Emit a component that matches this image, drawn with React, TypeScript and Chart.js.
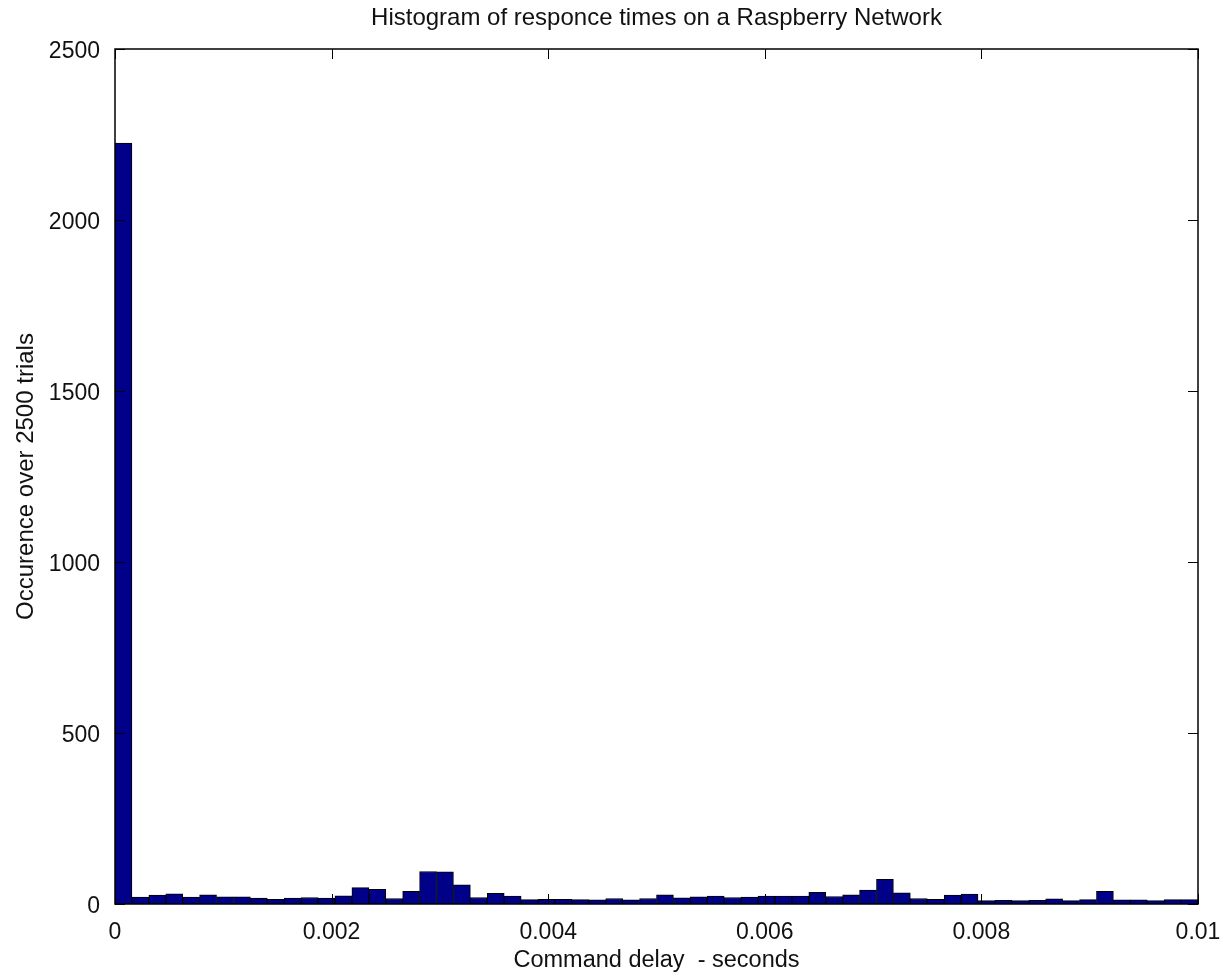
import React, { useEffect, useRef } from "react";
import { Chart, registerables } from "chart.js";

Chart.register(...registerables);

const chartTitle = "Histogram of responce times on a Raspberry Network";
const xAxisTitle = "Command delay  - seconds";
const yAxisTitle = "Occurence over 2500 trials";

const xMin = 0;
const xMax = 0.01;
const binCount = 64;

const counts = [
  2225, 20, 26, 30, 20, 27, 21, 21, 17, 14, 17, 19, 17, 24, 48, 43,
  16, 37, 95, 94, 56, 19, 31, 23, 13, 14, 14, 13, 12, 16, 12, 16,
  27, 18, 21, 23, 19, 20, 23, 23, 23, 34, 22, 27, 41, 72, 33, 16,
  14, 26, 29, 10, 11, 10, 11, 15, 10, 13, 37, 12, 12, 10, 13, 13,
];

const xTickValues = [0, 0.002, 0.004, 0.006, 0.008, 0.01];
const xTickLabels = ["0", "0.002", "0.004", "0.006", "0.008", "0.01"];
const yTickValues = [0, 500, 1000, 1500, 2000, 2500];
const yTickLabels = ["0", "500", "1000", "1500", "2000", "2500"];

const FONT = '"Liberation Sans", Arial, Helvetica, sans-serif';

export default function App() {
  const canvasRef = useRef<HTMLCanvasElement | null>(null);

  useEffect(() => {
    const canvas = canvasRef.current;
    if (!canvas) return;
    const binWidth = (xMax - xMin) / binCount;
    const points = counts.map((c, i) => ({ x: xMin + (i + 0.5) * binWidth, y: c }));

    const boxPlugin = {
      id: "boxTicks",
      afterDatasetsDraw(chart: any) {
        const { ctx, chartArea } = chart;
        const { left, right, top, bottom } = chartArea;
        const xs = chart.scales.x;
        const ys = chart.scales.y;
        ctx.save();
        ctx.strokeStyle = "#000";
        ctx.lineWidth = 1.5;
        ctx.strokeRect(left, top, right - left, bottom - top);
        const L = 10;
        ctx.lineWidth = 1;
        ctx.beginPath();
        xTickValues.forEach((v) => {
          const px = Math.round(xs.getPixelForValue(v)) + 0.5;
          ctx.moveTo(px, bottom);
          ctx.lineTo(px, bottom - L);
          ctx.moveTo(px, top);
          ctx.lineTo(px, top + L);
        });
        yTickValues.forEach((v) => {
          const py = Math.round(ys.getPixelForValue(v)) + 0.5;
          ctx.moveTo(left, py);
          ctx.lineTo(left + L, py);
          ctx.moveTo(right, py);
          ctx.lineTo(right - L, py);
        });
        ctx.stroke();
        ctx.fillStyle = "#111";
        ctx.font = `24px ${FONT}`;
        ctx.textAlign = "center";
        ctx.textBaseline = "alphabetic";
        ctx.fillText(chartTitle, (left + right) / 2, 25);
        ctx.restore();
      },
    };

    const chart = new Chart(canvas, {
      type: "bar",
      data: {
        datasets: [
          {
            data: points as any,
            backgroundColor: "#000088",
            borderColor: "#000000",
            borderWidth: 1,
            categoryPercentage: 1,
            barPercentage: 1,
          },
        ],
      },
      options: {
        animation: false,
        responsive: false,
        devicePixelRatio: 1,
        layout: { padding: { top: 49, right: 25, left: 0, bottom: 0 } },
        plugins: {
          legend: { display: false },
          tooltip: { enabled: false },
          title: { display: false },
        },
        scales: {
          x: {
            type: "linear",
            min: xMin,
            max: xMax,
            offset: false,
            grid: { display: false, drawTicks: false },
            border: { display: false },
            afterBuildTicks: (scale: any) => {
              scale.ticks = xTickValues.map((v) => ({ value: v }));
            },
            afterFit: (scale: any) => {
              scale.height = 73;
              scale.paddingLeft = 0;
              scale.paddingRight = 0;
            },
            ticks: {
              autoSkip: false,
              maxRotation: 0,
              padding: 15,
              color: "#111",
              font: { family: FONT, size: 23 },
              callback: (v: any) => {
                const i = xTickValues.findIndex((t) => Math.abs(t - Number(v)) < 1e-9);
                return i >= 0 ? xTickLabels[i] : "";
              },
            },
            title: {
              display: true,
              text: xAxisTitle,
              color: "#111",
              font: { family: FONT, size: 23.5 },
              padding: { top: 0, bottom: 2 },
            },
          },
          y: {
            type: "linear",
            min: 0,
            max: 2500,
            grid: { display: false, drawTicks: false },
            border: { display: false },
            afterBuildTicks: (scale: any) => {
              scale.ticks = yTickValues.map((v) => ({ value: v }));
            },
            afterFit: (scale: any) => {
              scale.width = 115;
              scale.paddingTop = 0;
              scale.paddingBottom = 0;
            },
            ticks: {
              autoSkip: false,
              padding: 15,
              labelOffset: 3,
              color: "#111",
              font: { family: FONT, size: 23 },
              callback: (v: any) => {
                const i = yTickValues.indexOf(Number(v));
                return i >= 0 ? yTickLabels[i] : "";
              },
            },
            title: {
              display: true,
              text: yAxisTitle,
              color: "#111",
              font: { family: FONT, size: 24 },
              padding: { top: 12, bottom: 0 },
            },
          },
        },
      },
      plugins: [boxPlugin],
    });

    return () => {
      chart.destroy();
    };
  }, []);

  return (
    <div style={{ position: "fixed", left: 0, top: 0, width: 1223, height: 977, background: "#fff" }}>
      <canvas ref={canvasRef} width={1223} height={977} style={{ display: "block" }} />
    </div>
  );
}
